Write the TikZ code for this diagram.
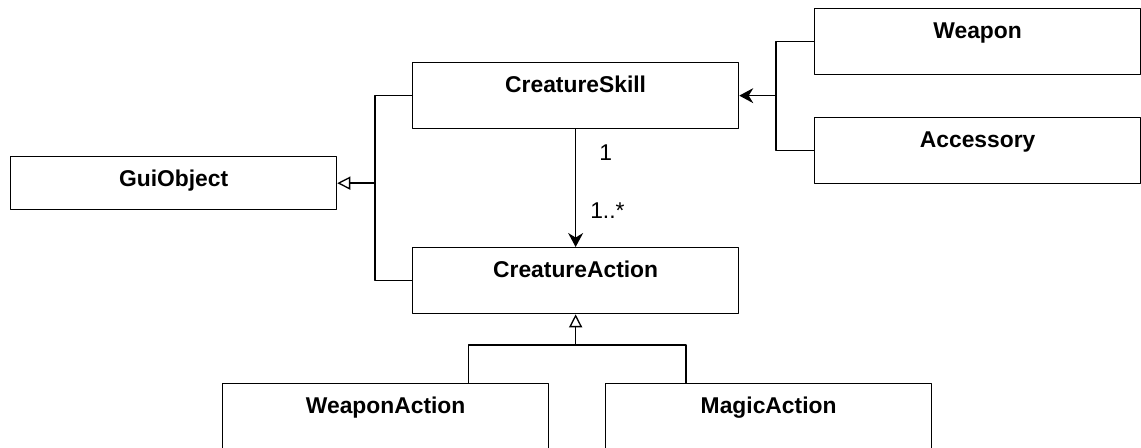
\documentclass[tikz,border=0pt]{standalone}
\usepackage{fontspec}
\setmainfont{Liberation Sans}
\usetikzlibrary{arrows.meta}
\begin{document}
\begin{tikzpicture}[x=0.02cm,y=-0.02cm,line join=round,>=Stealth,line width=0.75pt,
		cls/.style={draw,anchor=north west,inner sep=0pt,minimum width=6.52cm,text height=0.6cm,text depth=0.72cm,font=\fontsize{13}{15}\selectfont\bfseries},
		mult/.style={inner sep=0pt,font=\fontsize{13}{15}\selectfont},
		gen/.style={-{Triangle[open,length=0.26cm,width=0.26cm]}},
		assoc/.style={-{Stealth[length=0.28cm,width=0.3cm]}}]
				\useasboundingbox (0,0) rectangle (1141,448);
				% classes
				\node[cls,text depth=0.46cm] (gui) at (10,156) {GuiObject};
				\node[cls] (skill) at (412,62) {CreatureSkill};
				\node[cls] (action) at (412,247) {CreatureAction};
				\node[cls] (weapon) at (814,8) {Weapon};
				\node[cls] (acc) at (814,117) {Accessory};
				\node[cls] (wpnact) at (222,383) {WeaponAction};
				\node[cls] (magact) at (605,383) {MagicAction};
				% GuiObject generalization
				\coordinate (gjoin) at ([xshift=-0.74cm]gui.east -| skill.west);
				\draw (skill.west) -| (gjoin) |- (action.west);
				\draw[gen] (gjoin) -- (gui.east);
				% Weapon and Accessory
				\coordinate (wjoin) at ([xshift=-0.76cm]skill.east -| weapon.west);
				\draw (weapon.west) -| (wjoin) |- (acc.west);
				\draw[assoc] (wjoin) -- (skill.east);
				% skill to action
				\draw[assoc] (skill.south) -- (action.south |- action.north)
					node[mult,pos=0.2,anchor=west,xshift=0.46cm] (m1) {1}
					node[mult,pos=0.69,anchor=west,xshift=0.28cm] (m2) {1..*};
				% action subclasses
				\coordinate (ajoin) at ([yshift=0.76cm]wpnact.north -| action.south);
				\coordinate (wa) at ([xshift=-1.62cm]wpnact.north east);
				\coordinate (ma) at ([xshift=1.62cm]magact.north west);
				\draw (wa) |- (ajoin) -| (ma);
				\draw[gen] (ajoin) -- (action.south);
			\end{tikzpicture}
\end{document}
